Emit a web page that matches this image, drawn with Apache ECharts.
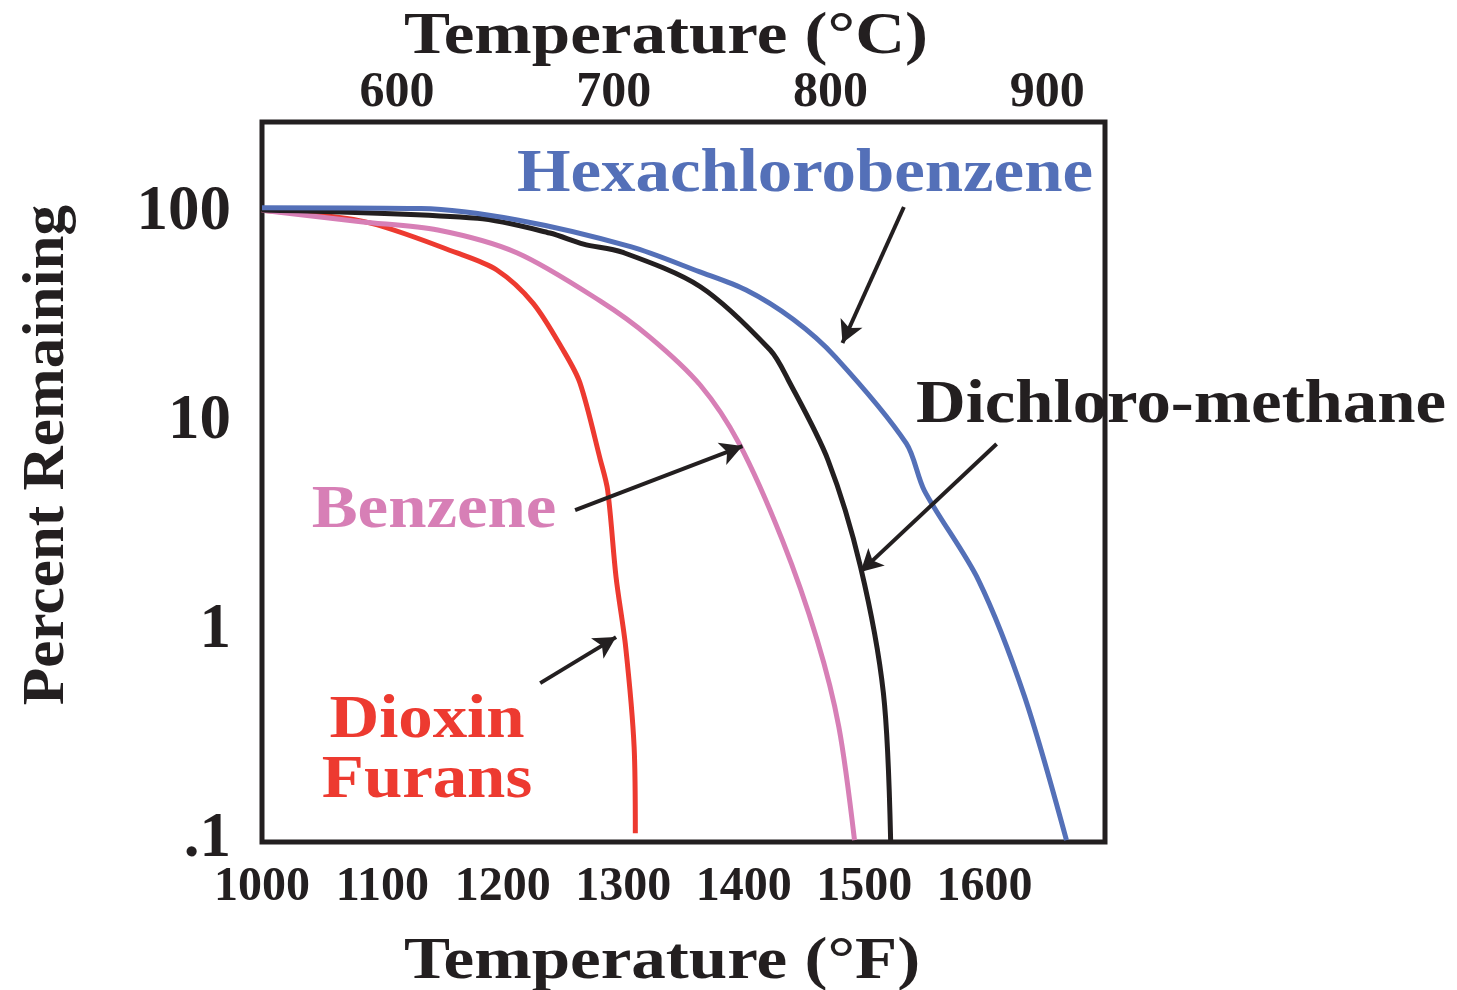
<!DOCTYPE html>
<html>
<head>
<meta charset="utf-8">
<script src="https://cdn.jsdelivr.net/npm/echarts@6/dist/echarts.min.js"></script>
<style>
  html, body { margin: 0; padding: 0; background: #ffffff; }
  #chart { width: 1457px; height: 990px; }
</style>
</head>
<body>
<div id="chart"></div>
<script>
// Destruction curves: percent of compound remaining vs. temperature (°F).
const hcbTempF    = [1000, 1132, 1212, 1306, 1363, 1402, 1441, 1476, 1535, 1550, 1595, 1633, 1668];
const hcbPercent  = [106, 105, 92.6, 69, 52.4, 42.8, 31, 20.5, 7.9, 4.7, 1.75, 0.49, 0.1];

const dcmTempF    = [1000, 1179, 1239, 1267, 1299, 1364, 1422, 1437, 1470, 1497, 1516, 1522];
const dcmPercent  = [103.4, 94.3, 80.2, 71, 65, 44.4, 22.1, 15.9, 6.58, 2.03, 0.505, 0.1];

const benzTempF   = [1000, 1082, 1146, 1212, 1281, 1322, 1364, 1396, 1432, 1461, 1479, 1492];
const benzPercent = [103, 90.9, 82.9, 64.4, 37.9, 25.5, 15.0, 7.93, 2.73, 0.906, 0.348, 0.1];

const dioxTempF   = [1000, 1085, 1162, 1195, 1225, 1250, 1264, 1281, 1287, 1294, 1302, 1309, 1310];
const dioxPercent = [103, 90.9, 64.4, 53.4, 37.1, 22.1, 15.4, 6.58, 4.73, 1.81, 0.838, 0.279, 0.108];

// Pointer arrows from each label to its curve: [from, to] in (°F, %).
const hcbArrow  = [[1533, 106.8], [1482, 23.9]];
const dcmArrow  = [[1610, 7.85], [1497, 1.92]];
const benzArrow = [[1260, 3.79], [1399, 7.68]];
const dioxArrow = [[1231, 0.564], [1294, 0.936]];

// Axes
const tempFMin = 1000, tempFMax = 1700, tempFStep = 100;
const tempFTicks = [1000, 1100, 1200, 1300, 1400, 1500, 1600];
const tempCTicks = [600, 700, 800, 900];
const pctMin = 0.098, pctMax = 272.5;
const pctTicks = [0.1, 1, 10, 100];
const pctTickLabels = ['.1', '1', '10', '100'];

const toC = f => (f - 32) * 5 / 9;

const INK = '#231f20';
const BLUE = '#5470b8';
const PINK = '#d77fb6';
const RED = '#ed3a30';
const SERIF = '"Liberation Serif", "Times New Roman", serif';

const pairs = (xs, ys) => xs.map((x, i) => [x, ys[i]]);

function arrowMark(arrow) {
  return {
    silent: true,
    symbol: ['none', 'arrow'],
    symbolSize: [18, 22],
    label: { show: false },
    emphasis: { disabled: true },
    lineStyle: { color: INK, width: 4, type: 'solid' },
    data: [[{ coord: arrow[0] }, { coord: arrow[1] }]]
  };
}

function curve(name, xs, ys, color, arrow) {
  return {
    name,
    type: 'line',
    xAxisIndex: 0,
    data: pairs(xs, ys),
    symbol: 'none',
    smooth: 0.3,
    lineStyle: { color, width: 5 },
    itemStyle: { color },
    emphasis: { disabled: true },
    markLine: arrowMark(arrow)
  };
}

function text(str, x, y, color, size, scaleX, rotation) {
  return {
    type: 'text',
    x, y,
    scaleX: scaleX || 1,
    rotation: rotation || 0,
    silent: true,
    style: {
      text: str,
      font: 'bold ' + size + 'px ' + SERIF,
      fill: color,
      textAlign: 'center', textVerticalAlign: 'middle',
      align: 'center', verticalAlign: 'middle'
    }
  };
}

const chart = echarts.init(document.getElementById('chart'), null, { renderer: 'canvas' });

chart.setOption({
  animation: false,
  backgroundColor: '#ffffff',
  grid: {
    left: 262, right: 352, top: 122, bottom: 148,
    show: true, borderColor: INK, borderWidth: 5, backgroundColor: 'transparent'
  },
  xAxis: [
    {
      type: 'value', position: 'bottom',
      min: tempFMin, max: tempFMax, interval: tempFStep,
      axisLine: { show: false }, axisTick: { show: false }, splitLine: { show: false },
      axisLabel: {
        customValues: tempFTicks,
        formatter: v => String(v),
        margin: 22,
        fontFamily: SERIF, fontWeight: 'bold', fontSize: 48, color: INK
      }
    },
    {
      type: 'value', position: 'top',
      min: toC(tempFMin), max: toC(tempFMax),
      axisLine: { show: false }, axisTick: { show: false }, splitLine: { show: false },
      axisLabel: {
        customValues: tempCTicks,
        formatter: v => String(v),
        margin: 4,
        fontFamily: SERIF, fontWeight: 'bold', fontSize: 50, color: INK
      }
    }
  ],
  yAxis: {
    type: 'log', logBase: 10,
    min: pctMin, max: pctMax,
    axisLine: { show: false }, axisTick: { show: false }, splitLine: { show: false },
    axisLabel: {
      customValues: pctTicks,
      formatter: v => pctTickLabels[Math.round(Math.log10(v)) + 1],
      margin: 31,
      fontFamily: SERIF, fontWeight: 'bold', fontSize: 63, color: INK
    }
  },
  series: [
    curve('Dioxin Furans', dioxTempF, dioxPercent, RED, dioxArrow),
    curve('Benzene', benzTempF, benzPercent, PINK, benzArrow),
    curve('Dichloro-methane', dcmTempF, dcmPercent, INK, dcmArrow),
    curve('Hexachlorobenzene', hcbTempF, hcbPercent, BLUE, hcbArrow)
  ],
  graphic: [
    text('Temperature (°C)', 666, 37, INK, 60, 1.15),
    text('Temperature (°F)', 662, 962, INK, 60, 1.15),
    text('Percent Remaining', 47, 455, INK, 60, 1.02, Math.PI / 2),
    text('Hexachlorobenzene', 805, 175, BLUE, 62, 1.11),
    text('Dichloro-methane', 1181, 406, INK, 62, 1.11),
    text('Benzene', 434, 511, PINK, 62, 1.11),
    text('Dioxin', 427, 721, RED, 62, 1.11),
    text('Furans', 427, 781, RED, 62, 1.11)
  ]
});
</script>
</body>
</html>
